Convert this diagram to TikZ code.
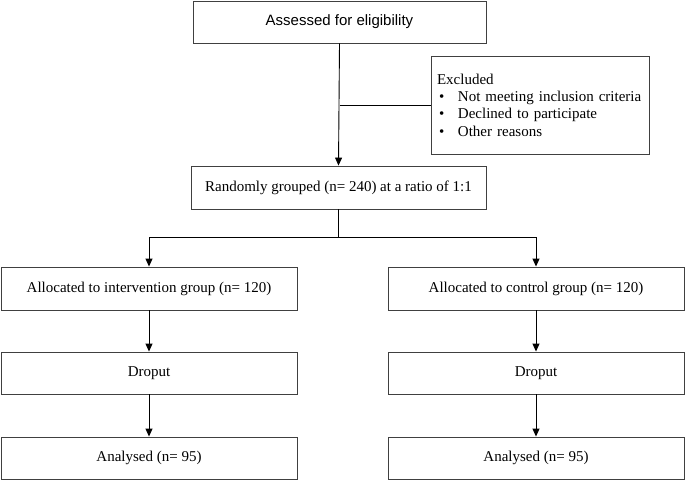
\documentclass[tikz,border=0pt]{standalone}
\usepackage{fontspec}
\setmainfont{Liberation Serif}
\newfontfamily\arialfont{Liberation Sans}
\usetikzlibrary{arrows.meta}

\tikzset{
    box/.style={draw=black!75, line width=0.9pt, rectangle, minimum height=42pt,
        inner sep=0pt, font=\fontsize{15}{17.3}\selectfont},
    arr/.style={line width=0.9pt, -{Triangle[length=8pt,width=7pt]}}
}

\begin{document}
\begin{tikzpicture}[x=1pt,y=1pt]
        \useasboundingbox (0,0) rectangle (685,-481);
        \node[box, minimum width=293pt, font=\arialfont\fontsize{15}{17.3}\selectfont] (assess) at (339.5,-22) {Assessed for eligibility};
        \node[box, minimum width=218pt, minimum height=98pt, text width=206pt, align=left] (excl) at (540,-105) {Excluded\\
            \hspace*{2pt}\makebox[19pt][l]{\textbullet}Not meeting inclusion criteria\\
            \hspace*{2pt}\makebox[19pt][l]{\textbullet}Declined to participate\\
            \hspace*{2pt}\makebox[19pt][l]{\textbullet}Other reasons};
        \node[box, minimum width=295pt, minimum height=43pt] (rand) at (338.5,-187.5) {Randomly grouped (n= 240) at a ratio of 1:1};
        \node[box, minimum width=296pt, minimum height=43pt] (allocI) at (149,-288.5) {Allocated to intervention group (n= 120)};
        \node[box, minimum width=296pt, minimum height=43pt] (allocC) at (536,-288.5) {Allocated to control group (n= 120)};
        \node[box, minimum width=296pt] (dropI) at (149,-373) {Droput};
        \node[box, minimum width=296pt] (dropC) at (536,-373) {Droput};
        \node[box, minimum width=296pt] (anaI) at (149,-458) {Analysed (n= 95)};
        \node[box, minimum width=296pt] (anaC) at (536,-458) {Analysed (n= 95)};

        \draw[arr] (assess.south) -- (rand.north);
        \draw[line width=0.9pt] (assess.south |- excl.west) -- (excl.west);
        \coordinate (split) at ([yshift=-28pt]rand.south);
        \draw[line width=0.9pt] (rand.south) -- (split);
        \draw[arr] (split) -| (allocI.north);
        \draw[arr] (split) -| (allocC.north);
        \draw[arr] (allocI) -- (dropI);
        \draw[arr] (allocC) -- (dropC);
        \draw[arr] (dropI) -- (anaI);
        \draw[arr] (dropC) -- (anaC);
    \end{tikzpicture}
\end{document}
